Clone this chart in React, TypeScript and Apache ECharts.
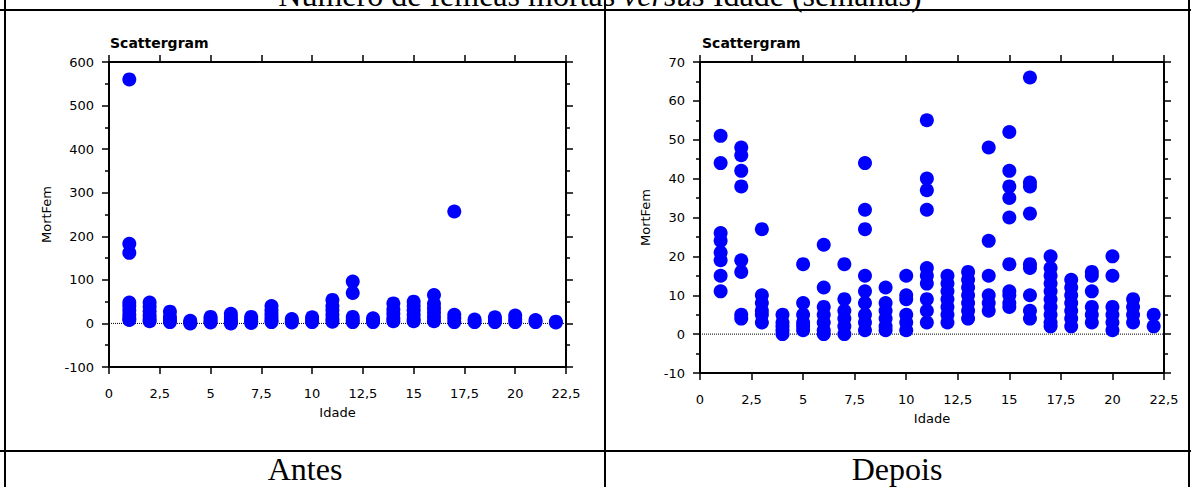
import React, { useEffect, useRef } from "react";
import * as echarts from "echarts";

// Ages (weeks) where females were counted
const ages = [1, 2, 3, 4, 5, 6, 7, 8, 9, 10, 11, 12, 13, 14, 15, 16, 17, 18, 19, 20, 21, 22];

// Dead females per age, before ("Antes")
const antesMort: number[][] = [
  [560, 183, 162, 48, 40, 30, 20, 12, 8],
  [48, 38, 28, 18, 10, 5],
  [27, 15, 8, 3],
  [6, 2, 0],
  [15, 10, 5, 2],
  [22, 15, 8, 3, 0],
  [15, 10, 5, 1],
  [40, 30, 22, 15, 8, 3],
  [10, 5, 2],
  [14, 8, 3],
  [54, 40, 30, 20, 10, 4],
  [96, 70, 15, 8, 3],
  [12, 6, 3],
  [46, 32, 22, 12, 5],
  [50, 40, 30, 20, 10, 5],
  [65, 45, 35, 25, 15, 5],
  [257, 20, 12, 3],
  [9, 3],
  [14, 8, 3],
  [18, 10, 3],
  [8, 3],
  [4, 2],
];

// Dead females per age, after ("Depois")
const depoisMort: number[][] = [
  [51, 44, 26, 24, 21, 19, 15, 11],
  [48, 46, 42, 38, 19, 16, 5, 4],
  [27, 10, 8, 6, 5, 3],
  [5, 3, 2, 1, 0],
  [18, 8, 5, 3, 2, 1],
  [23, 12, 7, 5, 3, 1, 0],
  [18, 9, 6, 4, 2, 0],
  [44, 32, 27, 15, 11, 8, 5, 3, 1],
  [12, 8, 6, 4, 2, 1],
  [15, 10, 9, 5, 3, 1],
  [55, 40, 37, 32, 17, 15, 13, 9, 6, 3],
  [15, 13, 11, 9, 7, 5, 3],
  [16, 14, 12, 10, 8, 6, 4],
  [48, 24, 15, 10, 8, 6],
  [52, 42, 38, 35, 30, 18, 11, 10, 8, 7],
  [66, 39, 38, 31, 18, 17, 10, 6, 4],
  [20, 17, 15, 13, 11, 9, 7, 5, 3, 2],
  [14, 12, 10, 8, 6, 4, 2],
  [16, 15, 11, 7, 5, 3],
  [20, 15, 7, 5, 3, 1],
  [9, 7, 5, 3],
  [5, 2],
];

// Axis ranges
const xRange = { min: 0, max: 22.5, step: 2.5 };
const antesY = { min: -100, max: 600, step: 100 };
const depoisY = { min: -10, max: 70, step: 10 };

const titleText = "Número de fêmeas mortas {i|versus} Idade (semanas)";
const panelLabels = ["Antes", "Depois"];
const plotTitle = "Scattergram";
const xName = "Idade";
const yName = "MortFem";

const SANS = "DejaVu Sans";
const SERIF = "Liberation Serif, Times New Roman, serif";

const toPoints = (byAge: number[][]) =>
  byAge.flatMap((vals, i) => vals.map((v) => [ages[i], v]));

const fmt = (v: number) => String(v).replace(".", ",");

const labelStyle = { color: "#000", fontSize: 13, fontFamily: SANS };
const lineStyle = { color: "#000", width: 2 };
const tickStyle = { color: "#000", width: 1.5 };

function xAxes(gridIndex: number) {
  const base = {
    type: "value" as const,
    gridIndex,
    min: xRange.min,
    max: xRange.max,
    interval: xRange.step,
    splitLine: { show: false },
    axisLine: { show: true, onZero: false, lineStyle },
    axisTick: { show: true, length: 7, lineStyle: tickStyle },
  };
  return [
    {
      ...base,
      position: "bottom",
      axisLabel: { ...labelStyle, margin: 20, formatter: fmt },
      name: xName,
      nameLocation: "middle",
      nameGap: 39,
      nameTextStyle: { ...labelStyle },
    },
    { ...base, position: "top", axisLabel: { show: false } },
  ];
}

function yAxes(gridIndex: number, r: { min: number; max: number; step: number }, nameGap: number) {
  const base = {
    type: "value" as const,
    gridIndex,
    min: r.min,
    max: r.max,
    interval: r.step,
    splitLine: { show: false },
    axisLine: { show: true, onZero: false, lineStyle },
    axisTick: { show: true, length: 7, lineStyle: tickStyle },
    minorTick: { show: true, splitNumber: 2, length: 4, lineStyle: tickStyle },
  };
  return [
    {
      ...base,
      position: "left",
      axisLabel: { ...labelStyle, margin: 15, formatter: fmt },
      name: yName,
      nameLocation: "middle",
      nameRotate: 90,
      nameGap,
      nameTextStyle: { ...labelStyle },
    },
    { ...base, position: "right", axisLabel: { show: false } },
  ];
}

function scatter(name: string, data: number[][], axisIndex: number) {
  return {
    name,
    type: "scatter",
    xAxisIndex: axisIndex,
    yAxisIndex: axisIndex,
    data,
    symbol: "circle",
    symbolSize: 14,
    itemStyle: { color: "#0000ff", opacity: 1 },
    z: 3,
  };
}

function zeroLine(axisIndex: number) {
  return {
    type: "line",
    xAxisIndex: axisIndex,
    yAxisIndex: axisIndex,
    data: [
      [xRange.min, 0],
      [xRange.max, 0],
    ],
    symbol: "none",
    silent: true,
    lineStyle: { color: "#000", width: 1, type: "dotted" },
    z: 2,
  };
}

const rule = (x1: number, y1: number, x2: number, y2: number) => ({
  type: "line",
  silent: true,
  shape: { x1, y1, x2, y2 },
  style: { stroke: "#000", lineWidth: 2 },
  z: 10,
});

export default function App() {
  const ref = useRef<HTMLDivElement>(null);

  useEffect(() => {
    if (!ref.current) return;
    const chart = echarts.init(ref.current, undefined, { renderer: "svg" });

    const option = {
      animation: false,
      backgroundColor: "#fff",
      grid: [
        { left: 109, top: 62, width: 457, height: 305 },
        { left: 700, top: 62, width: 464, height: 311 },
      ],
      xAxis: [...xAxes(0), ...xAxes(1)],
      yAxis: [...yAxes(0, antesY, 56), ...yAxes(1, depoisY, 48)],
      series: [
        zeroLine(0),
        scatter(panelLabels[0], toPoints(antesMort), 0),
        zeroLine(2),
        scatter(panelLabels[1], toPoints(depoisMort), 2),
      ],
      graphic: [
        // table rules
        rule(5, 0, 5, 487),
        rule(605, 0, 605, 487),
        rule(1189, 0, 1189, 487),
        rule(0, 10, 1191, 10),
        rule(0, 451, 1191, 451),
        {
          type: "text",
          x: 600,
          y: -5,
          style: {
            text: titleText,
            fill: "#000",
            font: `32px ${SERIF}`,
            fontSize: 32,
            fontFamily: SERIF,
            align: "center",
            verticalAlign: "middle",
            rich: {
              i: { fontSize: 32, fontFamily: SERIF, fontStyle: "italic", fill: "#000" },
            },
          },
        },
        {
          type: "text",
          x: 305,
          y: 469,
          style: {
            text: panelLabels[0],
            fill: "#000",
            fontSize: 32,
            fontFamily: SERIF,
            align: "center",
            verticalAlign: "middle",
          },
        },
        {
          type: "text",
          x: 897,
          y: 469,
          style: {
            text: panelLabels[1],
            fill: "#000",
            fontSize: 32,
            fontFamily: SERIF,
            align: "center",
            verticalAlign: "middle",
          },
        },
        {
          type: "text",
          x: 110,
          y: 43,
          style: {
            text: plotTitle,
            fill: "#000",
            fontSize: 14,
            fontWeight: "bold",
            fontFamily: SANS,
            align: "left",
            verticalAlign: "middle",
          },
        },
        {
          type: "text",
          x: 702,
          y: 43,
          style: {
            text: plotTitle,
            fill: "#000",
            fontSize: 14,
            fontWeight: "bold",
            fontFamily: SANS,
            align: "left",
            verticalAlign: "middle",
          },
        },
      ],
    };

    chart.setOption(option as any);
    return () => chart.dispose();
  }, []);

  return (
    <div
      ref={ref}
      style={{ position: "absolute", left: 0, top: 0, width: 1191, height: 487, background: "#fff" }}
    />
  );
}
